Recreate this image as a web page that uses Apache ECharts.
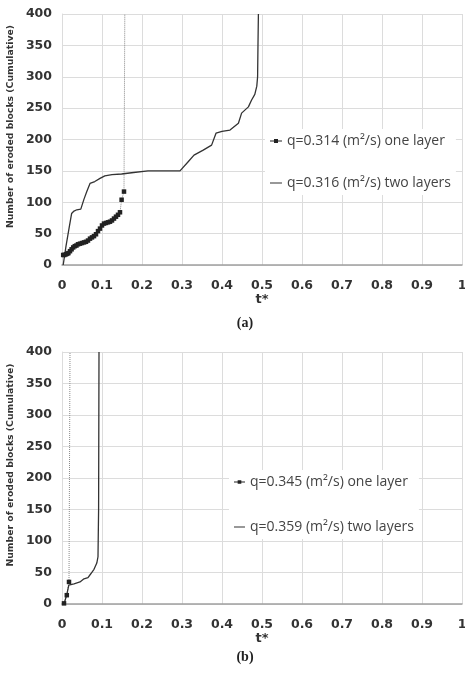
<!DOCTYPE html>
<html>
<head>
<meta charset="utf-8">
<script src="https://cdn.jsdelivr.net/npm/echarts@6/dist/echarts.min.js"></script>
<style>
html,body{margin:0;padding:0;background:#fff;}
#c{width:465px;height:674px;}
</style>
</head>
<body>
<div id="c"></div>
<script>
// ---------- data ----------
var xTickLabels = ['0','0.1','0.2','0.3','0.4','0.5','0.6','0.7','0.8','0.9','1'];
var yTickLabels = ['0','50','100','150','200','250','300','350','400'];

var seriesNames = [
  'q=0.314 (m\u00B2/s) one layer',
  'q=0.316 (m\u00B2/s) two layers',
  'q=0.345 (m\u00B2/s) one layer',
  'q=0.359 (m\u00B2/s) two layers'
];

// (a) one layer
var aOneT = [0.003,0.006,0.010,0.013,0.016,0.020,0.024,0.028,0.032,0.036,0.040,0.045,0.050,0.055,0.060,0.065,0.070,0.075,0.080,0.085,0.090,0.095,0.100,0.105,0.110,0.115,0.120,0.125,0.130,0.135,0.140,0.145,0.149,0.155,0.157];
var aOneV = [16,16,17,18,19,22,25,28,30,31,33,34,35,36,37,39,42,44,46,49,54,58,63,66,67,68,69,71,74,77,80,84,104,117,400];

// (a) two layers
var aTwoT = [0.003,0.010,0.018,0.024,0.030,0.037,0.047,0.055,0.062,0.070,0.082,0.095,0.107,0.125,0.149,0.174,0.215,0.250,0.295,0.316,0.330,0.353,0.374,0.385,0.400,0.420,0.441,0.449,0.466,0.474,0.482,0.487,0.489,0.490,0.491];
var aTwoV = [0,30,60,82,86,88,89,105,117,130,133,138,142,144,145,147,150,150,150,165,175,183,191,210,213,215,226,242,252,263,272,285,300,353,400];

// (b) one layer
var bOneT = [0.005,0.012,0.0175,0.020];
var bOneV = [1,14,35,400];

// (b) two layers
var bTwoT = [0.005,0.012,0.017,0.030,0.045,0.055,0.065,0.072,0.080,0.087,0.090,0.0915,0.0925];
var bTwoV = [0,15,30,32,35,40,42,48,55,65,75,150,400];

// ---------- helpers ----------
function pairs(ts, vs, lastNoSymbol) {
  return ts.map(function (t, i) {
    if (lastNoSymbol && i === ts.length - 1) return { value: [t, vs[i]], symbol: 'none' };
    return [t, vs[i]];
  });
}

// legend icons: invisible corner anchors keep the full item box, visible mark in the middle
var ICON_MARKER = 'path://M0,0L0.01,0Z M12,14L12.01,14Z M0,6.5L4,6.5L4,5L8,5L8,6.5L12,6.5L12,7.5L8,7.5L8,9L4,9L4,7.5L0,7.5Z';
var ICON_LINE = 'path://M0,0L0.01,0Z M12,14L12.01,14Z M0,6.4L12,6.4L12,7.6L0,7.6Z';

var tickFont = { fontFamily: 'DejaVu Sans', fontWeight: 'bold', fontSize: 12.5, color: '#333' };

function xAxisDef(gi) {
  return {
    type: 'value', gridIndex: gi, min: 0, max: 1, interval: 0.1,
    name: 't*', nameLocation: 'middle', nameGap: 26,
    nameTextStyle: { fontFamily: 'DejaVu Sans', fontWeight: 'bold', fontSize: 13, color: '#333' },
    axisLine: { show: true, lineStyle: { color: '#a0a0a0', width: 1.5 } },
    axisTick: { show: false },
    axisLabel: Object.assign({ margin: 14, formatter: function (v) { return xTickLabels[Math.round(v * 10)]; } }, tickFont),
    splitLine: { show: true, lineStyle: { color: '#dcdcdc', width: 1 } }
  };
}
function yAxisDef(gi) {
  return {
    type: 'value', gridIndex: gi, min: 0, max: 400, interval: 50,
    name: 'Number of eroded blocks (Cumulative)', nameLocation: 'middle', nameGap: 42,
    nameTextStyle: { fontFamily: 'DejaVu Sans', fontWeight: 'bold', fontSize: 9.3, color: '#333', padding: [0, 0, 0, 26] },
    axisLine: { show: true, lineStyle: { color: '#dcdcdc', width: 1 } },
    axisTick: { show: false },
    axisLabel: Object.assign({ margin: 10, formatter: function (v) { return yTickLabels[Math.round(v / 50)]; } }, tickFont),
    splitLine: { show: true, lineStyle: { color: '#dcdcdc', width: 1 } }
  };
}

var legendText = { fontFamily: 'Open Sans', fontSize: 14, lineHeight: 14, color: '#444' };

var option = {
  backgroundColor: '#fff',
  animation: false,
  title: [
    { text: '(a)', left: 240, top: 311, textAlign: 'center',
      textStyle: { fontFamily: 'Liberation Serif', fontWeight: 'bold', fontSize: 14, color: '#222' } },
    { text: '(b)', left: 240, top: 645, textAlign: 'center',
      textStyle: { fontFamily: 'Liberation Serif', fontWeight: 'bold', fontSize: 14, color: '#222' } }
  ],
  grid: [
    { left: 62, top: 14, width: 400, height: 251, containLabel: false, outerBoundsMode: 'none' },
    { left: 62, top: 352, width: 400, height: 252, containLabel: false, outerBoundsMode: 'none' }
  ],
  xAxis: [xAxisDef(0), xAxisDef(1)],
  yAxis: [yAxisDef(0), yAxisDef(1)],
  legend: [
    { data: [{ name: seriesNames[0], icon: ICON_MARKER }, { name: seriesNames[1], icon: ICON_LINE }],
      orient: 'vertical', left: 265, top: 129,
      itemWidth: 12, itemHeight: 14, itemGap: 28, backgroundColor: '#fff', padding: [5, 5, 5, 5],
      textStyle: legendText, inactiveColor: '#ccc' },
    { data: [{ name: seriesNames[2], icon: ICON_MARKER }, { name: seriesNames[3], icon: ICON_LINE }],
      orient: 'vertical', left: 229, top: 470,
      itemWidth: 11, itemHeight: 14, itemGap: 31, backgroundColor: '#fff', padding: [5, 5, 5, 5],
      textStyle: legendText, inactiveColor: '#ccc' }
  ],
  series: [
    { name: seriesNames[0], type: 'line', xAxisIndex: 0, yAxisIndex: 0,
      data: pairs(aOneT, aOneV, true), symbol: 'rect', symbolSize: 4.5,
      itemStyle: { color: '#222' }, lineStyle: { color: '#888', width: 1, type: 'dotted' }, clip: true },
    { name: seriesNames[1], type: 'line', xAxisIndex: 0, yAxisIndex: 0,
      data: pairs(aTwoT, aTwoV, false), symbol: 'none',
      itemStyle: { color: '#333' }, lineStyle: { color: '#333', width: 1.3 }, clip: true },
    { name: seriesNames[2], type: 'line', xAxisIndex: 1, yAxisIndex: 1,
      data: pairs(bOneT, bOneV, true), symbol: 'rect', symbolSize: 4.5,
      itemStyle: { color: '#222' }, lineStyle: { color: '#888', width: 1, type: 'dotted' }, clip: true },
    { name: seriesNames[3], type: 'line', xAxisIndex: 1, yAxisIndex: 1,
      data: pairs(bTwoT, bTwoV, false), symbol: 'none',
      itemStyle: { color: '#333' }, lineStyle: { color: '#333', width: 1.3 }, clip: true }
  ]
};

var chart = echarts.init(document.getElementById('c'), null, { renderer: 'canvas' });
chart.setOption(option);
</script>
</body>
</html>
